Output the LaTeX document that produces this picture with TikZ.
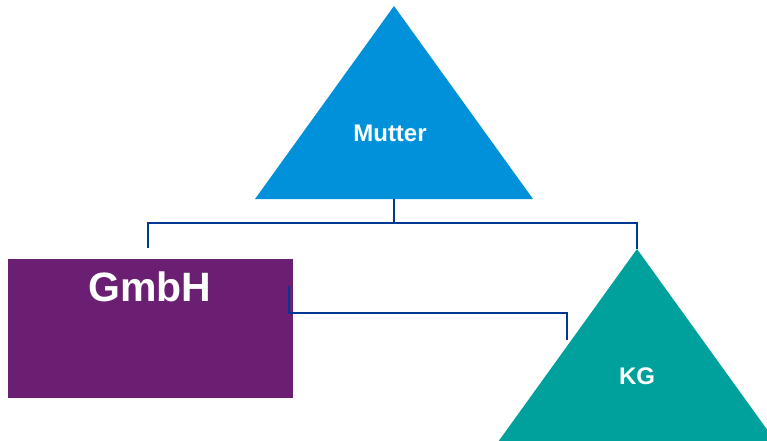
\documentclass[tikz,border=0pt]{standalone}
\usepackage{fontspec}
\setmainfont{Liberation Sans}
\definecolor{mutterblue}{RGB}{0,145,218}
\definecolor{kgteal}{RGB}{0,161,157}
\definecolor{gmbhpurple}{RGB}{107,31,115}
\definecolor{linkblue}{RGB}{0,56,147}
\begin{document}
\begin{tikzpicture}[x=1pt,y=-1pt,
  link/.style={draw=linkblue,line width=2.3pt},
  lbl/.style={text=white,font=\bfseries,inner sep=0pt}]
\useasboundingbox (0,0) rectangle (767,440);
\begin{scope}
\clip (0,0) rectangle (767,440);
% Mutter triangle
\coordinate (mA) at (394,6);
\coordinate (mL) at (255,199);
\coordinate (mR) at (533,199);
\fill[mutterblue] (mA) -- (mL) -- (mR) -- cycle;
\node[lbl,font=\bfseries\fontsize{24}{28}\selectfont] (mutter) at (390,133) {Mutter};
\coordinate (mB) at (394,199);
% KG triangle
\coordinate (kA) at (637,249);
\coordinate (kL) at (498,442);
\coordinate (kR) at (776,442);
\fill[kgteal] (kA) -- (kL) -- (kR) -- cycle;
\node[lbl,font=\bfseries\fontsize{24}{28}\selectfont] (kg) at (637,376) {KG};
% GmbH box
\node[fill=gmbhpurple,minimum width=285pt,minimum height=139pt,inner sep=0pt,anchor=north west] (gmbhbox) at (8,259) {};
\node[lbl,font=\bfseries\fontsize{41}{46}\selectfont] (gmbh) at (150,287) {GmbH};
% connectors
\coordinate (jL) at (148,223);
\coordinate (jR) at (637,223);
\coordinate (jM) at (394,223);
\coordinate (gT) at (148,248);
\draw[link] (mB) -- (jM);
\draw[link] (gT) -- (jL) -- (jR) -- (kA);
\coordinate (g1) at (289,286);
\coordinate (g2) at (289,313);
\coordinate (k2) at (567,313);
\coordinate (k1) at (567,340);
\draw[link] (g1) -- (g2) -- (k2) -- (k1);
\end{scope}
\end{tikzpicture}
\end{document}
